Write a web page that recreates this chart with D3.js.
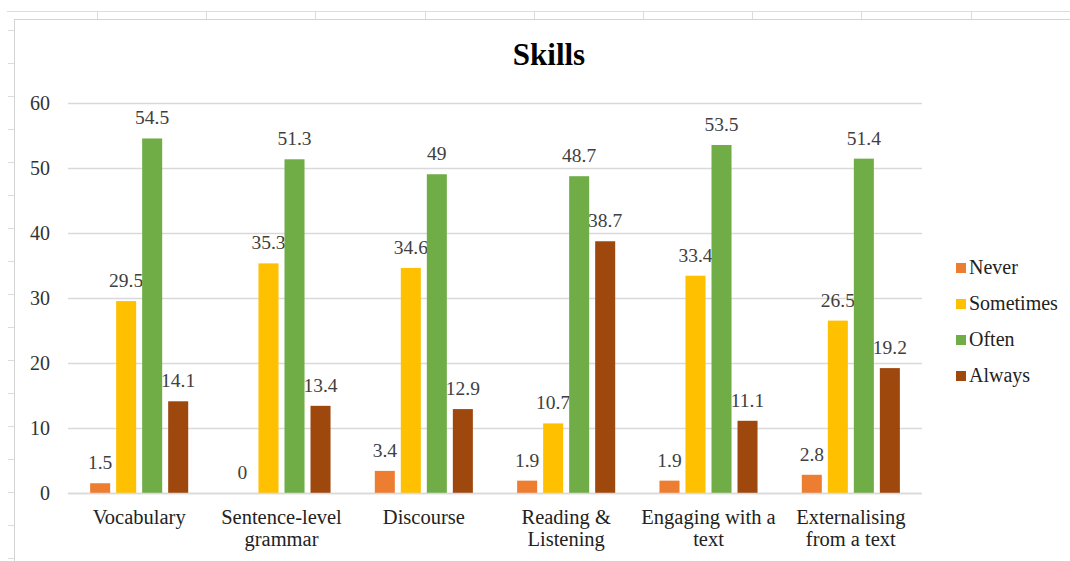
<!DOCTYPE html>
<html>
<head>
<meta charset="utf-8">
<script src="https://cdn.jsdelivr.net/npm/d3@7"></script>
<style>
  html, body { margin: 0; padding: 0; background: #fff; }
  svg { display: block; }
</style>
</head>
<body>
<svg id="chart" width="1070" height="561"></svg>
<script>
// ---- data ----
const categories = ["Vocabulary", "Sentence-level grammar", "Discourse", "Reading & Listening", "Engaging with a text", "Externalising from a text"];
const categoryLines = [["Vocabulary"], ["Sentence-level", "grammar"], ["Discourse"], ["Reading &", "Listening"], ["Engaging with a", "text"], ["Externalising", "from a text"]];
const seriesNames = ["Never", "Sometimes", "Often", "Always"];
const never     = [1.5, 0, 3.4, 1.9, 1.9, 2.8];
const sometimes = [29.5, 35.3, 34.6, 10.7, 33.4, 26.5];
const often     = [54.5, 51.3, 49, 48.7, 53.5, 51.4];
const always    = [14.1, 13.4, 12.9, 38.7, 11.1, 19.2];
const yTicks = [0, 10, 20, 30, 40, 50, 60];
const colors = ["#ED7D31", "#FFC000", "#70AD47", "#9E480E"];

const FONT = "Liberation Serif";
const seriesValues = [never, sometimes, often, always];
const svg = d3.select("#chart");

// ---- spreadsheet background ----
const bg = svg.append("g");
bg.append("line").attr("x1", 7).attr("x2", 1070).attr("y1", 11.5).attr("y2", 11.5).attr("stroke", "#dcdcdc");
d3.range(97, 1070, 109.2).forEach(x => {
  bg.append("line").attr("x1", Math.round(x) + 0.5).attr("x2", Math.round(x) + 0.5).attr("y1", 11).attr("y2", 19).attr("stroke", "#dcdcdc");
});
d3.range(30, 561, 33).forEach(y => {
  bg.append("line").attr("x1", 8).attr("x2", 14).attr("y1", Math.round(y) + 0.5).attr("y2", Math.round(y) + 0.5).attr("stroke", "#dcdcdc");
});
bg.append("rect").attr("x", 14.5).attr("y", 19.5).attr("width", 1100).attr("height", 600)
  .attr("fill", "#fff").attr("stroke", "#d4d4d4");

// ---- scales ----
const plot = { left: 68, right: 922, top: 102.7, bottom: 493 };
const x0 = d3.scaleBand().domain(categories).range([plot.left, plot.right]).paddingInner(0.311).paddingOuter(0.1555);
const x1 = d3.scaleBand().domain(seriesNames).range([0, x0.bandwidth()]).paddingInner(0.23).paddingOuter(0);
const y = d3.scaleLinear().domain([0, 60]).range([plot.bottom, plot.top]);

// gridlines
const grid = svg.append("g");
yTicks.forEach(t => {
  grid.append("line").attr("x1", plot.left).attr("x2", plot.right)
    .attr("y1", Math.round(y(t)) + 0.5).attr("y2", Math.round(y(t)) + 0.5)
    .attr("stroke", "#d9d9d9").attr("stroke-width", 1.3);
});

// y axis labels
const yAxis = d3.axisLeft(y).tickValues(yTicks).tickSize(0).tickPadding(0);
const yg = svg.append("g").attr("transform", `translate(${plot.left - 18},0)`).call(yAxis);
yg.attr("font-family", FONT).attr("font-size", 20);
yg.select(".domain").remove();
yg.selectAll("text").attr("font-family", FONT).attr("font-size", 20).attr("fill", "#333").attr("dy", "0.34em");

// title
svg.append("text").attr("x", 549).attr("y", 65).attr("text-anchor", "middle")
  .attr("font-family", FONT).attr("font-size", 31).attr("font-weight", "bold").attr("fill", "#000").text("Skills");

// data labels (drawn beneath bars)
const labels = svg.append("g").attr("font-family", FONT);
seriesNames.forEach((s, si) => {
  categories.forEach((c, ci) => {
    const v = seriesValues[si][ci];
    labels.append("text")
      .attr("x", x0(c) + x1(s) + x1.bandwidth() / 2)
      .attr("y", y(v) - 14)
      .attr("text-anchor", "middle")
      .attr("font-family", FONT).attr("font-size", 19.5).attr("fill", "#404040")
      .text(v);
  });
});

// bars
const bars = svg.append("g");
seriesNames.forEach((s, si) => {
  bars.selectAll(null).data(categories).enter().append("rect")
    .attr("x", c => x0(c) + x1(s))
    .attr("width", x1.bandwidth())
    .attr("y", (c, ci) => y(seriesValues[si][ci]))
    .attr("height", (c, ci) => y(0) - y(seriesValues[si][ci]))
    .attr("fill", colors[si]);
});

// x axis
const xg = svg.append("g").attr("transform", `translate(0,${Math.round(y(0)) + 0.5})`);
xg.append("line").attr("x1", plot.left).attr("x2", plot.right).attr("stroke", "#d9d9d9").attr("stroke-width", 1.3);
categories.forEach((c, ci) => {
  const cx = x0(c) + x0.bandwidth() / 2;
  const t = xg.append("text").attr("x", cx).attr("y", 30)
    .attr("text-anchor", "middle").attr("font-family", FONT).attr("font-size", 20.5).attr("fill", "#222");
  categoryLines[ci].forEach((ln, li) => {
    t.append("tspan").attr("x", cx).attr("dy", li === 0 ? 0 : 22).text(ln);
  });
});

// legend
const legend = svg.append("g").attr("transform", "translate(956,268)");
seriesNames.forEach((s, si) => {
  const g = legend.append("g").attr("transform", `translate(0,${si * 36})`);
  g.append("rect").attr("x", 0).attr("y", -5).attr("width", 10).attr("height", 10).attr("fill", colors[si]);
  g.append("text").attr("x", 13).attr("y", 6).attr("font-family", FONT).attr("font-size", 20).attr("fill", "#222").text(s);
});
</script>
</body>
</html>
